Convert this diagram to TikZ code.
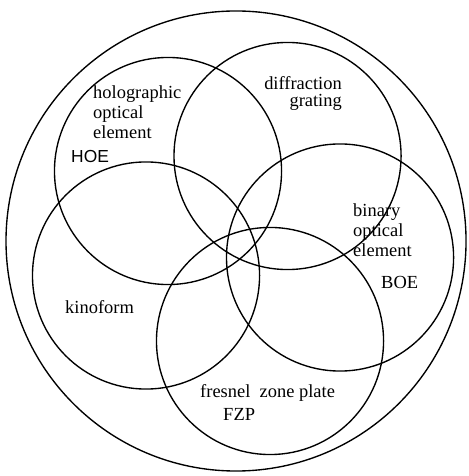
\documentclass[tikz,border=0pt]{standalone}
\usepackage{fontspec}
\setmainfont{Liberation Serif}
\setsansfont{Liberation Sans}
\usepackage{tikz}

\tikzset{
  set/.style={draw, circle, line width=1.3pt, minimum size=7.57cm, inner sep=0pt},
  tag/.style={inner sep=0pt, font=\fontsize{17.5}{19.3}\selectfont}
}

\begin{document}
\begin{tikzpicture}
        \useasboundingbox (-7.867, -7.833) rectangle (7.733, 8.033);
        % the whole family
        \draw[line width=1.3pt] (0, 0) circle (7.667);
        % the five overlapping sets
        \node[set] (hoe) at (-2.267, 2.333) {};
        \node[set] (grating) at (1.717, 2.833) {};
        \node[set] (boe) at (3.467, -0.55) {};
        \node[set] (kino) at (-3.0, -1.15) {};
        \node[set] (fzp) at (1.133, -3.333) {};
        % labels (base is the last line)
        \node[tag, anchor=base west, align=left] (hoetext) at (-4.767, 3.407) {holographic\\optical\\element};
        \node[tag, anchor=base west, font=\sffamily\fontsize{16.5}{19}\selectfont] (hoename) at (-5.5, 2.6) {HOE};
        \node[tag, anchor=base east, align=right] (gratingtext) at (3.533, 4.467) {diffraction\\[-3pt]grating};
        \node[tag, anchor=base west, align=left] (boetext) at (3.9, -0.527) {binary\\optical\\element};
        \node[tag, anchor=base west] (boename) at (4.833, -1.567) {BOE};
        \node[tag, anchor=base west] (kinotext) at (-5.7, -2.4) {kinoform};
        \node[tag, anchor=base west] (fzptext) at (-1.2, -5.2) {fresnel\ \ zone plate};
        \node[tag, anchor=base west] (fzpname) at (-0.433, -5.967) {FZP};
      \end{tikzpicture}
\end{document}
